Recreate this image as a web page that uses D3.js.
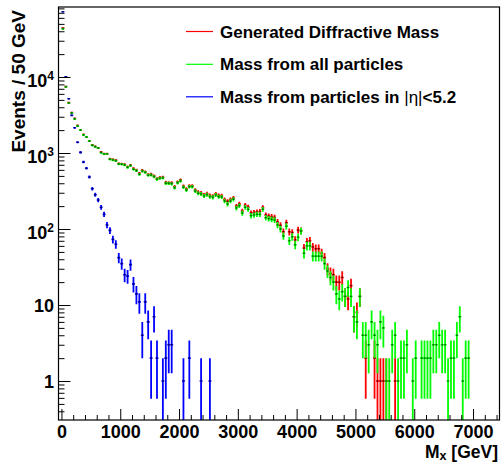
<!DOCTYPE html>
<html>
<head>
<meta charset="utf-8">
<script src="https://cdn.jsdelivr.net/npm/d3@7"></script>
<style>
  html, body { margin: 0; padding: 0; background: #fff; }
  svg { display: block; font-family: "Liberation Sans", Arial, Helvetica, sans-serif; font-weight: bold; }
</style>
</head>
<body>
<div id="chart"></div>
<script>
// --- histogram contents, 50 GeV bins starting at 0 ---
const BIN_WIDTH = 50;

const generatedMass = [
  44000, 7500, 4600, 3400, 2850, 2300, 2000, 1750, 1640, 1450,
  1280, 1220, 1170, 1030, 980, 980, 840, 820, 800, 725,
  720, 705, 660, 690, 625, 595, 540, 590, 565, 520,
  525, 500, 460, 475, 480, 410, 405, 405, 360, 415,
  440, 365, 335, 370, 370, 325, 305, 298, 282, 292,
  276, 270, 290, 276, 274, 245, 232, 244, 256, 200,
  214, 172, 205, 194, 162, 165, 168, 170, 192, 153,
  148, 145, 142, 124, 112, 92, 121, 92, 90, 72,
  97, 95, 56, 68, 70, 58, 55, 55, 48, 42,
  30, 26, 25, 20, 20, 23, 13, 12, 18, 7,
  8, 13, 0, 2, 0, 0, 2, 1, 1, 1,
  1, 0, 0, 1
];

const allParticlesMass = [
  43000, 7400, 4550, 3360, 2800, 2260, 2000, 1730, 1620, 1440,
  1260, 1210, 1160, 1010, 970, 970, 826, 809, 790, 716,
  710, 695, 648, 681, 611, 585, 524, 579, 557, 509,
  514, 488, 451, 465, 469, 399, 399, 394, 349, 406,
  428, 354, 326, 360, 360, 316, 295, 289, 272, 283,
  266, 261, 280, 266, 264, 234, 213, 234, 246, 189,
  203, 162, 193, 182, 150, 153, 156, 156, 182, 141,
  137, 134, 131, 113, 100, 81, 109, 70, 79, 62,
  78, 94, 48, 60, 60, 44, 44, 44, 44, 35,
  28, 23, 20, 14, 12, 15, 13, 17, 13, 7,
  6, 13, 4, 4, 3, 6, 4, 3, 6, 5,
  1, 1, 3, 4, 1, 2, 2, 3, 0, 1,
  2, 0, 2, 2, 2, 2, 3, 3, 4, 3,
  3, 1, 2, 2, 4, 7, 1, 2, 2
];

const etaCutMass = [
  72300, 10100, 5180, 3130, 2150, 1385, 1020, 762, 630, 483,
  339, 283, 241, 193, 156, 113, 96, 73, 63, 42,
  35, 25, 24, 34, 19, 14, 11, 4, 11, 6,
  2, 7, 2, 0, 1, 2, 3, 3, 0, 0,
  0, 1, 0, 2, 0, 0, 0, 1, 0, 0,
  1
];

const legendLabels = ["Generated Diffractive Mass", "Mass from all particles", "Mass from particles in "];
const seriesColors = ["#ff0000", "#00ff00", "#0000ff"];
const xTickLabels = [0, 1000, 2000, 3000, 4000, 5000, 6000, 7000];
const yTickLabels = [1, 10, 100, 1000, 10000];

const W = 501, H = 463;
const frame = { left: 58.5, right: 499.5, top: 7, bottom: 420 };

const svg = d3.select("#chart").append("svg").attr("width", W).attr("height", H);
svg.append("rect").attr("width", W).attr("height", H).attr("fill", "#fff");

const x = d3.scaleLinear().domain([-50, 7450]).range([frame.left, frame.right]);
const y = d3.scaleLog().domain([0.307, 83400]).range([frame.bottom, frame.top]);

svg.append("clipPath").attr("id", "frameclip").append("rect")
  .attr("x", frame.left).attr("y", frame.top)
  .attr("width", frame.right - frame.left).attr("height", frame.bottom - frame.top);

// --- histograms: bin-width bar, sqrt(N) error bar, small dark marker ---
function drawHist(values, color) {
  const pts = values.map((v, i) => ({ v, i })).filter(d => d.v > 0);
  const g = svg.append("g").attr("clip-path", "url(#frameclip)");
  const lowY = d => { const lo = d.v - Math.sqrt(d.v); return lo > y.domain()[0] ? y(lo) : frame.bottom + 2; };
  g.selectAll("line.ev").data(pts).join("line").attr("class", "ev")
    .attr("x1", d => x((d.i + 0.5) * BIN_WIDTH)).attr("x2", d => x((d.i + 0.5) * BIN_WIDTH))
    .attr("y1", d => y(d.v + Math.sqrt(d.v))).attr("y2", lowY)
    .attr("stroke", color).attr("stroke-width", 1.8);
  g.selectAll("line.eh").data(pts).join("line").attr("class", "eh")
    .attr("x1", d => x(d.i * BIN_WIDTH)).attr("x2", d => x((d.i + 1) * BIN_WIDTH))
    .attr("y1", d => y(d.v)).attr("y2", d => y(d.v))
    .attr("stroke", color).attr("stroke-width", 1.6);
  g.selectAll("rect.mk").data(pts).join("rect").attr("class", "mk")
    .attr("x", d => x((d.i + 0.5) * BIN_WIDTH) - 0.7).attr("y", d => y(d.v) - 0.7)
    .attr("width", 1.4).attr("height", 1.4).attr("fill", "#000").attr("opacity", 0.75);
}
drawHist(generatedMass, seriesColors[0]);
drawHist(allParticlesMass, seriesColors[1]);
drawHist(etaCutMass, seriesColors[2]);

// --- frame ---
svg.append("rect")
  .attr("x", frame.left).attr("y", frame.top)
  .attr("width", frame.right - frame.left).attr("height", frame.bottom - frame.top)
  .attr("fill", "none").attr("stroke", "#000").attr("stroke-width", 1.2);

// --- x axis (ticks pointing inwards) ---
const xMinor = d3.range(0, 7451, 200).filter(v => v % 1000 !== 0);
const xMinorAxis = svg.append("g").attr("transform", `translate(0,${frame.bottom})`)
  .call(d3.axisBottom(x).tickValues(xMinor).tickSizeInner(-5).tickSizeOuter(0).tickFormat(""));
const xMajorAxis = svg.append("g").attr("transform", `translate(0,${frame.bottom})`)
  .call(d3.axisBottom(x).tickValues(xTickLabels).tickSizeInner(-11).tickSizeOuter(0).tickPadding(5).tickFormat(d3.format("d")));
[xMinorAxis, xMajorAxis].forEach(a => { a.select(".domain").remove(); a.selectAll("line").attr("stroke", "#000"); });
xMajorAxis.selectAll("text").attr("font-size", 18).attr("font-weight", "bold")
  .attr("font-family", "Liberation Sans, Arial, sans-serif").attr("fill", "#000");

// --- y axis (log) ---
const yMinor = [];
for (let e = -1; e <= 4; e++) for (let k = 2; k <= 9; k++) {
  const v = k * Math.pow(10, e);
  if (v > y.domain()[0] && v < y.domain()[1]) yMinor.push(v);
}
const yMinorAxis = svg.append("g").attr("transform", `translate(${frame.left},0)`)
  .call(d3.axisLeft(y).tickValues(yMinor).tickSizeInner(-6).tickSizeOuter(0).tickFormat(""));
const yMajorAxis = svg.append("g").attr("transform", `translate(${frame.left},0)`)
  .call(d3.axisLeft(y).tickValues(yTickLabels).tickSizeInner(-12).tickSizeOuter(0).tickFormat(""));
[yMinorAxis, yMajorAxis].forEach(a => { a.select(".domain").remove(); a.selectAll("line").attr("stroke", "#000"); });

yTickLabels.forEach(v => {
  const e = Math.round(Math.log10(v));
  const t = svg.append("text").attr("text-anchor", "end").attr("x", 54).attr("font-size", 18);
  if (e < 2) {
    t.attr("y", y(v) + 7).text(String(v));
  } else {
    t.attr("y", y(v) + 10);
    t.append("tspan").text("10");
    t.append("tspan").attr("font-size", 12).attr("dy", -7).text(String(e));
  }
});

// --- axis titles ---
svg.append("text").attr("transform", `translate(25,10) rotate(-90)`)
  .attr("text-anchor", "end").attr("font-size", 19).text("Events / 50 GeV");

const xt = svg.append("text").attr("x", 498).attr("y", 457.5).attr("text-anchor", "end").attr("font-size", 17.5);
xt.append("tspan").text("M");
xt.append("tspan").attr("font-size", 12.5).attr("dy", 2.5).text("x");
xt.append("tspan").attr("dy", -2.5).text(" [GeV]");

// --- legend ---
const legendY = [31.5, 64.3, 96.8];
legendLabels.forEach((lab, i) => {
  svg.append("line").attr("x1", 186).attr("x2", 213).attr("y1", legendY[i]).attr("y2", legendY[i])
    .attr("stroke", seriesColors[i]).attr("stroke-width", 1.2);
  const t = svg.append("text").attr("x", 220).attr("y", legendY[i] + 6).attr("font-size", 17).text(lab);
  if (i === 2) {
    t.append("tspan").attr("font-weight", "normal").text("|η|");
    t.append("tspan").text("<5.2");
  }
});
</script>
</body>
</html>
